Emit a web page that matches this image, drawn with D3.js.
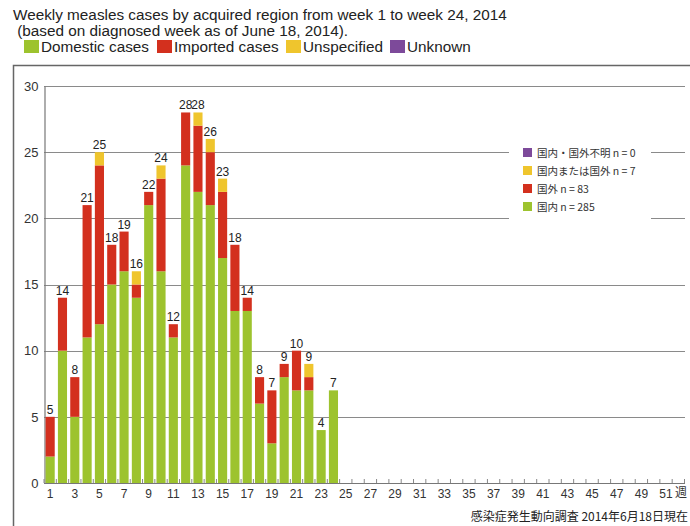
<!DOCTYPE html>
<html><head><meta charset="utf-8">
<script src="https://cdn.jsdelivr.net/npm/d3@7"></script>
<style>body{margin:0;background:#fff}svg{display:block}</style>
</head><body>
<script>
const weeks = d3.range(1, 25);
const domestic = [2,10,5,11,12,15,16,14,21,16,11,24,22,21,17,13,13,6,3,8,7,7,4,7];
const imported = [3,4,3,10,12,3,3,1,1,7,1,4,5,4,5,5,1,2,4,1,3,1,0,0];
const unspecified = [0,0,0,0,1,0,0,1,0,1,0,0,1,1,1,0,0,0,0,0,0,1,0,0];
const unknown = new Array(24).fill(0);
const allWeeks = d3.range(1, 53);
const tickWeeks = d3.range(1, 52, 2);
const yTicks = [0,5,10,15,20,25,30];
const seriesKeys = ["domestic","imported","unspecified","unknown"];
const seriesColors = ["#9dc32e","#d3301e","#efc52d","#7d4a9a"];
const legendTop = ["Domestic cases","Imported cases","Unspecified","Unknown"];
const legendJa = ["国内・国外不明 n = 0","国内または国外 n = 7","国外 n = 83","国内 n = 285"];
const legendJaColors = ["#7d4a9a","#efc52d","#d3301e","#9dc32e"];

const W = 690, H = 526;
const svg = d3.select("body").append("svg").attr("width", W).attr("height", H);
const font = "'Liberation Sans', Arial, sans-serif";

// title
svg.append("text").attr("x", 13).attr("y", 20).attr("font-family", font).attr("font-size", 15.3).attr("fill", "#222")
  .text("Weekly measles cases by acquired region from week 1 to week 24, 2014");
svg.append("text").attr("x", 13).attr("y", 36).attr("font-family", font).attr("font-size", 15.3).attr("fill", "#222")
  .attr("xml:space","preserve").text(" (based on diagnosed week as of June 18, 2014).");
// top legend
const lx = [24, 157, 286, 390];
legendTop.forEach((t, i) => {
  svg.append("rect").attr("x", lx[i]).attr("y", 40).attr("width", 15).attr("height", 13).attr("fill", seriesColors[i]);
  svg.append("text").attr("x", lx[i] + 17).attr("y", 52).attr("font-family", font).attr("font-size", 15.3).attr("fill", "#222").text(t);
});

// frame
svg.append("path").attr("d", "M13.5,526 V65.5 H690").attr("fill", "none").attr("stroke", "#666").attr("stroke-width", 1.5);

const x = d3.scaleBand().domain(allWeeks).range([44, 684.5]).paddingInner(0.26).paddingOuter(0.13);
const y = d3.scaleLinear().domain([0, 30]).range([483, 86]);

// gridlines
svg.append("g").selectAll("line").data(yTicks.filter(d => d > 0)).join("line")
  .attr("x1", 44).attr("x2", 685).attr("y1", d => Math.round(y(d)) + 0.5).attr("y2", d => Math.round(y(d)) + 0.5)
  .attr("stroke", "#8a8a8a").attr("stroke-width", 1.2);

// y axis
const yAxis = d3.axisLeft(y).tickValues(yTicks).tickSize(0).tickPadding(6);
const yg = svg.append("g").attr("transform", "translate(44.5,0)").call(yAxis);
yg.select(".domain").attr("stroke", "#777").attr("stroke-width", 1.2);
yg.selectAll("text").attr("font-family", font).attr("font-size", 13).attr("fill", "#333");

// bars
const data = weeks.map((w, i) => ({week: w, domestic: domestic[i], imported: imported[i], unspecified: unspecified[i], unknown: unknown[i]}));
const stacked = d3.stack().keys(seriesKeys)(data);
svg.append("g").selectAll("g").data(stacked).join("g").attr("fill", (d, i) => seriesColors[i])
  .selectAll("rect").data(d => d.filter(s => s[1] > s[0])).join("rect")
  .attr("x", d => x(d.data.week)).attr("width", x.bandwidth())
  .attr("y", d => y(d[1])).attr("height", d => y(d[0]) - y(d[1]));

// value labels
svg.append("g").selectAll("text").data(data).join("text")
  .attr("x", d => x(d.week) + x.bandwidth() / 2)
  .attr("y", d => y(d.domestic + d.imported + d.unspecified + d.unknown) - 3)
  .attr("text-anchor", "middle").attr("font-family", font).attr("font-size", 12).attr("fill", "#222")
  .text(d => d.domestic + d.imported + d.unspecified + d.unknown);

// x axis
const xg = svg.append("g");
xg.append("line").attr("x1", 44).attr("x2", 685).attr("y1", 483.5).attr("y2", 483.5).attr("stroke", "#777").attr("stroke-width", 1.2);
const step = x.step();
xg.selectAll("line.t").data(d3.range(1, 53)).join("line").attr("class", "t")
  .attr("x1", d => x(d) - step * x.paddingInner() / 2).attr("x2", d => x(d) - step * x.paddingInner() / 2)
  .attr("y1", 483).attr("y2", 479).attr("stroke", "#888").attr("stroke-width", 1);
xg.append("line").attr("x1", 684.5).attr("x2", 684.5).attr("y1", 483).attr("y2", 479).attr("stroke", "#888");
const xAxis = d3.axisBottom(x).tickValues(tickWeeks).tickSize(0).tickPadding(6);
const xa = svg.append("g").attr("transform", "translate(0,483)").call(xAxis);
xa.select(".domain").remove();
xa.selectAll("text").attr("font-family", font).attr("font-size", 12).attr("fill", "#333");
svg.append("text").attr("x", 675).attr("y", 497).attr("font-family", "'Noto Sans CJK JP', sans-serif").attr("font-size", 12).attr("fill", "#333").text("週");

// Japanese legend box
svg.append("rect").attr("x", 509).attr("y", 140).attr("width", 142).attr("height", 86).attr("fill", "#fff");
legendJa.forEach((t, i) => {
  const yy = 148 + i * 18;
  svg.append("rect").attr("x", 523).attr("y", yy).attr("width", 9).attr("height", 9).attr("fill", legendJaColors[i]);
  svg.append("text").attr("x", 537).attr("y", yy + 8.5).attr("font-family", "'Noto Sans CJK JP', sans-serif").attr("font-size", 10.5).attr("fill", "#333")
    .attr("xml:space","preserve").text(t);
});

// footer
svg.append("text").attr("x", 688).attr("y", 521).attr("text-anchor", "end").attr("font-family", "'Noto Sans CJK JP', sans-serif").attr("font-size", 12).attr("fill", "#222")
  .text("感染症発生動向調査 2014年6月18日現在");
</script>
</body></html>
